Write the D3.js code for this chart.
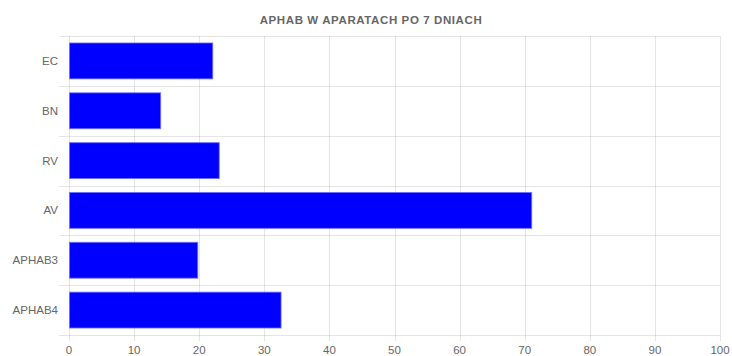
<!DOCTYPE html>
<html>
<head>
<meta charset="utf-8">
<script src="https://cdn.jsdelivr.net/npm/d3@7"></script>
<style>
  html, body { margin: 0; padding: 0; background: #fff; }
  svg { display: block; font-family: "Liberation Sans", Arial, sans-serif; }
</style>
</head>
<body>
<svg id="chart" width="732" height="356"></svg>
<script>
// APHAB scores after 7 days with hearing aids
const categories = ["EC", "BN", "RV", "AV", "APHAB3", "APHAB4"];
const values = [22, 14, 23, 71, 19.7, 32.5];
const xTicks = [0, 10, 20, 30, 40, 50, 60, 70, 80, 90, 100];
const title = "APHAB W APARATACH PO 7 DNIACH";

const svg = d3.select("#chart");
const W = 732, H = 356;
const margin = { top: 36, right: 12, bottom: 21, left: 69 };
const innerW = W - margin.left - margin.right;
const innerH = H - margin.top - margin.bottom;

const x = d3.scaleLinear().domain([0, 100]).range([margin.left, margin.left + innerW]);
const y = d3.scaleBand().domain(categories).range([margin.top, margin.top + innerH])
  .paddingInner(0.28).paddingOuter(0.14);
const band = d3.scaleBand().domain(categories).range([margin.top, margin.top + innerH]);

const gridColor = "rgba(0,0,0,0.1)";
const textColor = "#666";

// title
svg.append("text")
  .attr("x", W / 2 + 5).attr("y", 23.5)
  .attr("text-anchor", "middle")
  .attr("font-size", 11.5).attr("font-weight", "bold")
  .attr("letter-spacing", 0.6)
  .attr("fill", textColor)
  .text(title);

// vertical grid lines (with tick marks below)
svg.append("g").selectAll("line").data(xTicks).join("line")
  .attr("x1", d => Math.round(x(d)) + 0.5).attr("x2", d => Math.round(x(d)) + 0.5)
  .attr("y1", margin.top).attr("y2", margin.top + innerH + 6)
  .attr("stroke", gridColor).attr("stroke-width", 1);

// horizontal grid lines at category boundaries (with tick marks at left)
const hLines = categories.map(c => band(c)).concat([margin.top + innerH]);
svg.append("g").selectAll("line").data(hLines).join("line")
  .attr("x1", margin.left - 10).attr("x2", margin.left + innerW)
  .attr("y1", d => Math.round(d) + 0.5).attr("y2", d => Math.round(d) + 0.5)
  .attr("stroke", gridColor).attr("stroke-width", 1);

// bars
svg.append("g").selectAll("rect").data(categories).join("rect")
  .attr("x", x(0) + 0.5)
  .attr("y", d => y(d))
  .attr("width", (d, i) => x(values[i]) - x(0))
  .attr("height", y.bandwidth())
  .attr("fill", "#0000ff")
  .attr("stroke", "rgba(110,110,255,0.8)")
  .attr("stroke-width", 1);

// y-axis labels
svg.append("g").selectAll("text").data(categories).join("text")
  .attr("x", margin.left - 11)
  .attr("y", d => band(d) + band.bandwidth() / 2)
  .attr("dy", "0.35em")
  .attr("text-anchor", "end")
  .attr("font-size", 11.5)
  .attr("fill", textColor)
  .text(d => d);

// x-axis labels
svg.append("g").selectAll("text").data(xTicks).join("text")
  .attr("x", d => x(d))
  .attr("y", margin.top + innerH + 15)
  .attr("dy", "0.35em")
  .attr("text-anchor", "middle")
  .attr("font-size", 11.5)
  .attr("fill", textColor)
  .text(d => d);
</script>
</body>
</html>
